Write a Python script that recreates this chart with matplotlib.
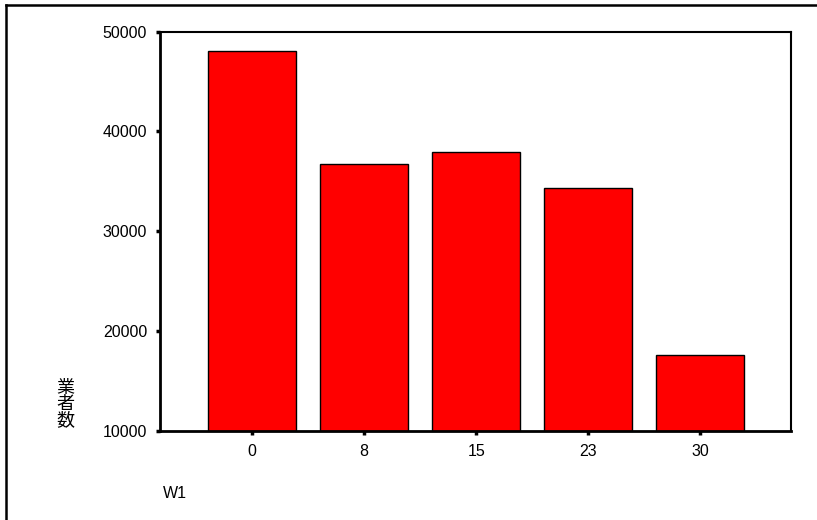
import numpy as np
import matplotlib.pyplot as plt
from matplotlib.lines import Line2D

plt.rcParams['font.family'] = ['Liberation Sans', 'Noto Sans CJK JP', 'DejaVu Sans']

categories = ['0', '8', '15', '23', '30']
counts = [48000, 36700, 37900, 34300, 17600]

W, H = 817, 520
fig = plt.figure(figsize=(W / 100, H / 100), dpi=100)

# axes box in pixels: left 159.5, right 791, top 31.5, bottom 431
ax = fig.add_axes([159.5 / W, 1 - 431 / H, (791 - 159.5) / W, (431 - 31.5) / H])

x = np.arange(len(categories))
ax.bar(x, counts, width=0.786, color='#ff0000', edgecolor='black', linewidth=1.0)

ax.set_xlim(-0.826, 4.81)
ax.set_ylim(10000, 50000)
ax.set_xticks(x)
ax.set_xticklabels(categories)
ax.set_yticks([10000, 20000, 30000, 40000, 50000])
ax.set_yticklabels(['10000', '20000', '30000', '40000', '50000'])
ax.tick_params(axis='both', direction='out', length=3, width=2.5, labelsize=11.5,
               pad=6, colors='black')

for side in ['left', 'bottom']:
    ax.spines[side].set_linewidth(2)
for side in ['top', 'right']:
    ax.spines[side].set_linewidth(1.5)

# y label: stacked characters
fig.text(65 / W, 1 - 404 / H, '業\n者\n数', ha='center', va='center',
         fontsize=13, linespacing=0.85, family=['Noto Sans CJK JP', 'DejaVu Sans'])

# x label
fig.text(163 / W, 1 - 494 / H, 'W1', ha='left', va='center', fontsize=11.5)

# outer frame: left and top edges only
fig.add_artist(Line2D([6 / W, 6 / W], [0, 1 - 5 / H], transform=fig.transFigure,
                      color='black', linewidth=1.8))
fig.add_artist(Line2D([6 / W, 1], [1 - 5 / H, 1 - 5 / H], transform=fig.transFigure,
                      color='black', linewidth=1.8))

fig.savefig('out.png', dpi=100)
